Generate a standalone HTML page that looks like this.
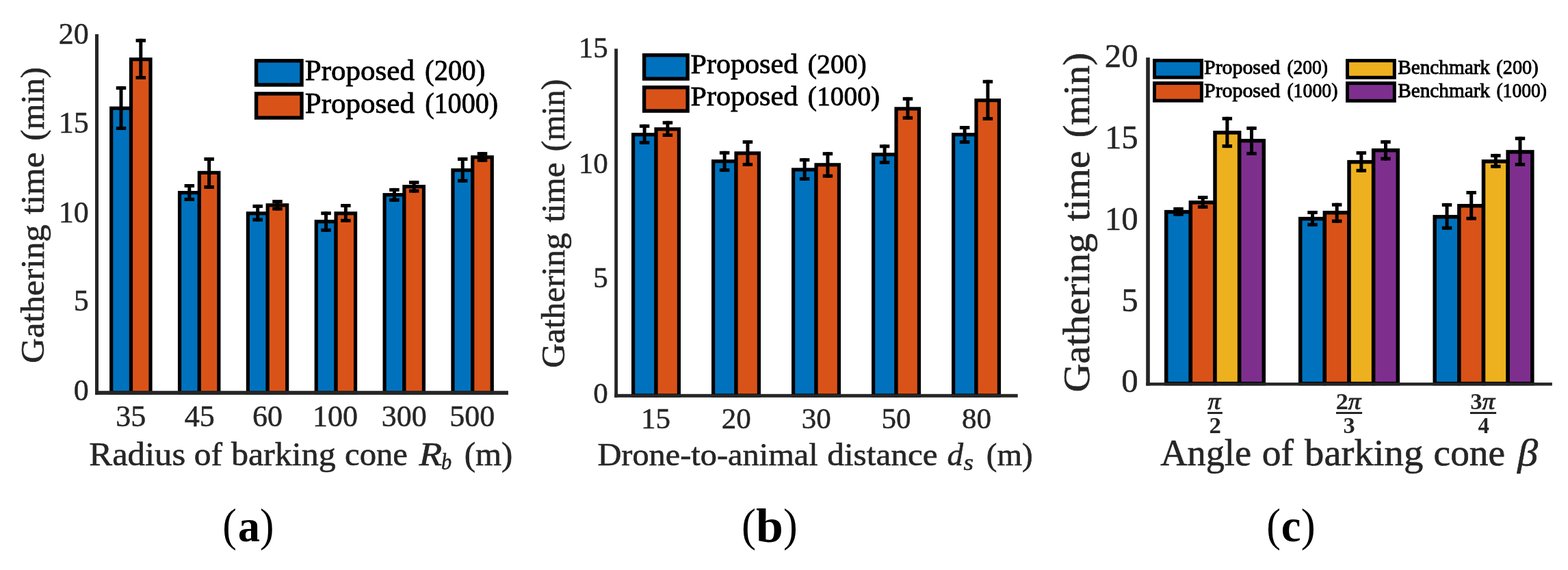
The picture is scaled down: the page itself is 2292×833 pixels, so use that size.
<!DOCTYPE html>
<html><head><meta charset="utf-8"><title>Gathering time bar charts</title>
<style>
html,body{margin:0;padding:0;background:#fff;}
body{width:2292px;height:833px;overflow:hidden;}
svg{display:block;font-family:"Liberation Serif",serif;font-kerning:none;}
</style></head><body>
<svg width="2292" height="833" viewBox="0 0 2292 833">
<rect width="2292" height="833" fill="#fff"/>
<rect x="162.70" y="158.20" width="28.80" height="415.80" fill="#0072BD" stroke="#000" stroke-width="5.2"/>
<rect x="191.50" y="86.70" width="28.50" height="487.30" fill="#D95319" stroke="#000" stroke-width="5.2"/>
<rect x="262.55" y="281.60" width="28.80" height="292.40" fill="#0072BD" stroke="#000" stroke-width="5.2"/>
<rect x="291.35" y="252.40" width="28.50" height="321.60" fill="#D95319" stroke="#000" stroke-width="5.2"/>
<rect x="362.40" y="311.80" width="28.80" height="262.20" fill="#0072BD" stroke="#000" stroke-width="5.2"/>
<rect x="391.20" y="299.80" width="28.50" height="274.20" fill="#D95319" stroke="#000" stroke-width="5.2"/>
<rect x="462.25" y="323.80" width="28.80" height="250.20" fill="#0072BD" stroke="#000" stroke-width="5.2"/>
<rect x="491.05" y="311.80" width="28.50" height="262.20" fill="#D95319" stroke="#000" stroke-width="5.2"/>
<rect x="562.10" y="284.70" width="28.80" height="289.30" fill="#0072BD" stroke="#000" stroke-width="5.2"/>
<rect x="590.90" y="272.70" width="28.50" height="301.30" fill="#D95319" stroke="#000" stroke-width="5.2"/>
<rect x="661.95" y="248.70" width="28.80" height="325.30" fill="#0072BD" stroke="#000" stroke-width="5.2"/>
<rect x="690.75" y="229.70" width="28.50" height="344.30" fill="#D95319" stroke="#000" stroke-width="5.2"/>
<rect x="174.50" y="126.10" width="5.00" height="63.90" fill="#000"/>
<rect x="169.75" y="126.10" width="14.50" height="5.00" fill="#000"/>
<rect x="169.75" y="185.00" width="14.50" height="5.00" fill="#000"/>
<rect x="203.30" y="56.70" width="5.00" height="59.30" fill="#000"/>
<rect x="198.55" y="56.70" width="14.50" height="5.00" fill="#000"/>
<rect x="198.55" y="111.00" width="14.50" height="5.00" fill="#000"/>
<rect x="274.35" y="269.00" width="5.00" height="24.90" fill="#000"/>
<rect x="269.60" y="269.00" width="14.50" height="5.00" fill="#000"/>
<rect x="269.60" y="288.90" width="14.50" height="5.00" fill="#000"/>
<rect x="303.15" y="230.00" width="5.00" height="45.90" fill="#000"/>
<rect x="298.40" y="230.00" width="14.50" height="5.00" fill="#000"/>
<rect x="298.40" y="270.90" width="14.50" height="5.00" fill="#000"/>
<rect x="374.20" y="298.90" width="5.00" height="24.70" fill="#000"/>
<rect x="369.45" y="298.90" width="14.50" height="5.00" fill="#000"/>
<rect x="369.45" y="318.60" width="14.50" height="5.00" fill="#000"/>
<rect x="403.00" y="292.00" width="5.00" height="15.60" fill="#000"/>
<rect x="398.25" y="292.00" width="14.50" height="5.00" fill="#000"/>
<rect x="398.25" y="302.60" width="14.50" height="5.00" fill="#000"/>
<rect x="474.05" y="309.20" width="5.00" height="29.60" fill="#000"/>
<rect x="469.30" y="309.20" width="14.50" height="5.00" fill="#000"/>
<rect x="469.30" y="333.80" width="14.50" height="5.00" fill="#000"/>
<rect x="502.85" y="298.00" width="5.00" height="26.90" fill="#000"/>
<rect x="498.10" y="298.00" width="14.50" height="5.00" fill="#000"/>
<rect x="498.10" y="319.90" width="14.50" height="5.00" fill="#000"/>
<rect x="573.90" y="274.90" width="5.00" height="19.90" fill="#000"/>
<rect x="569.15" y="274.90" width="14.50" height="5.00" fill="#000"/>
<rect x="569.15" y="289.80" width="14.50" height="5.00" fill="#000"/>
<rect x="602.70" y="264.10" width="5.00" height="17.50" fill="#000"/>
<rect x="597.95" y="264.10" width="14.50" height="5.00" fill="#000"/>
<rect x="597.95" y="276.60" width="14.50" height="5.00" fill="#000"/>
<rect x="673.75" y="230.00" width="5.00" height="36.70" fill="#000"/>
<rect x="669.00" y="230.00" width="14.50" height="5.00" fill="#000"/>
<rect x="669.00" y="261.70" width="14.50" height="5.00" fill="#000"/>
<rect x="702.55" y="222.10" width="5.00" height="14.60" fill="#000"/>
<rect x="697.80" y="222.10" width="14.50" height="5.00" fill="#000"/>
<rect x="697.80" y="231.70" width="14.50" height="5.00" fill="#000"/>
<rect x="139.00" y="50.00" width="5.00" height="526.90" fill="#262626"/>
<rect x="139.00" y="571.20" width="603.90" height="5.70" fill="#262626"/>
<rect x="925.60" y="196.70" width="33.40" height="381.30" fill="#0072BD" stroke="#000" stroke-width="5.2"/>
<rect x="959.00" y="188.70" width="33.40" height="389.30" fill="#D95319" stroke="#000" stroke-width="5.2"/>
<rect x="1042.60" y="235.70" width="33.40" height="342.30" fill="#0072BD" stroke="#000" stroke-width="5.2"/>
<rect x="1076.00" y="223.90" width="33.40" height="354.10" fill="#D95319" stroke="#000" stroke-width="5.2"/>
<rect x="1159.60" y="247.90" width="33.40" height="330.10" fill="#0072BD" stroke="#000" stroke-width="5.2"/>
<rect x="1193.00" y="240.80" width="33.40" height="337.20" fill="#D95319" stroke="#000" stroke-width="5.2"/>
<rect x="1276.60" y="225.80" width="33.40" height="352.20" fill="#0072BD" stroke="#000" stroke-width="5.2"/>
<rect x="1310.00" y="158.90" width="33.40" height="419.10" fill="#D95319" stroke="#000" stroke-width="5.2"/>
<rect x="1393.60" y="196.70" width="33.40" height="381.30" fill="#0072BD" stroke="#000" stroke-width="5.2"/>
<rect x="1427.00" y="146.60" width="33.40" height="431.40" fill="#D95319" stroke="#000" stroke-width="5.2"/>
<rect x="939.60" y="181.80" width="5.00" height="29.10" fill="#000"/>
<rect x="934.85" y="181.80" width="14.50" height="5.00" fill="#000"/>
<rect x="934.85" y="205.90" width="14.50" height="5.00" fill="#000"/>
<rect x="973.40" y="176.80" width="5.00" height="23.20" fill="#000"/>
<rect x="968.65" y="176.80" width="14.50" height="5.00" fill="#000"/>
<rect x="968.65" y="195.00" width="14.50" height="5.00" fill="#000"/>
<rect x="1056.60" y="220.80" width="5.00" height="30.30" fill="#000"/>
<rect x="1051.85" y="220.80" width="14.50" height="5.00" fill="#000"/>
<rect x="1051.85" y="246.10" width="14.50" height="5.00" fill="#000"/>
<rect x="1090.40" y="205.00" width="5.00" height="37.90" fill="#000"/>
<rect x="1085.65" y="205.00" width="14.50" height="5.00" fill="#000"/>
<rect x="1085.65" y="237.90" width="14.50" height="5.00" fill="#000"/>
<rect x="1173.60" y="231.20" width="5.00" height="32.70" fill="#000"/>
<rect x="1168.85" y="231.20" width="14.50" height="5.00" fill="#000"/>
<rect x="1168.85" y="258.90" width="14.50" height="5.00" fill="#000"/>
<rect x="1207.40" y="222.20" width="5.00" height="37.50" fill="#000"/>
<rect x="1202.65" y="222.20" width="14.50" height="5.00" fill="#000"/>
<rect x="1202.65" y="254.70" width="14.50" height="5.00" fill="#000"/>
<rect x="1290.60" y="211.30" width="5.00" height="28.60" fill="#000"/>
<rect x="1285.85" y="211.30" width="14.50" height="5.00" fill="#000"/>
<rect x="1285.85" y="234.90" width="14.50" height="5.00" fill="#000"/>
<rect x="1324.40" y="141.90" width="5.00" height="32.90" fill="#000"/>
<rect x="1319.65" y="141.90" width="14.50" height="5.00" fill="#000"/>
<rect x="1319.65" y="169.80" width="14.50" height="5.00" fill="#000"/>
<rect x="1407.60" y="184.00" width="5.00" height="26.10" fill="#000"/>
<rect x="1402.85" y="184.00" width="14.50" height="5.00" fill="#000"/>
<rect x="1402.85" y="205.10" width="14.50" height="5.00" fill="#000"/>
<rect x="1441.40" y="116.80" width="5.00" height="59.20" fill="#000"/>
<rect x="1436.65" y="116.80" width="14.50" height="5.00" fill="#000"/>
<rect x="1436.65" y="171.00" width="14.50" height="5.00" fill="#000"/>
<rect x="898.20" y="71.20" width="4.80" height="509.60" fill="#262626"/>
<rect x="898.20" y="575.80" width="589.50" height="5.00" fill="#262626"/>
<rect x="1704.70" y="309.65" width="35.65" height="250.95" fill="#0072BD" stroke="#000" stroke-width="5.5"/>
<rect x="1740.35" y="295.85" width="35.65" height="264.75" fill="#D95319" stroke="#000" stroke-width="5.5"/>
<rect x="1776.00" y="193.75" width="35.65" height="366.85" fill="#EDB120" stroke="#000" stroke-width="5.5"/>
<rect x="1811.65" y="205.65" width="35.65" height="354.95" fill="#7E2F8E" stroke="#000" stroke-width="5.5"/>
<rect x="1900.70" y="319.65" width="35.65" height="240.95" fill="#0072BD" stroke="#000" stroke-width="5.5"/>
<rect x="1936.35" y="310.75" width="35.65" height="249.85" fill="#D95319" stroke="#000" stroke-width="5.5"/>
<rect x="1972.00" y="236.65" width="35.65" height="323.95" fill="#EDB120" stroke="#000" stroke-width="5.5"/>
<rect x="2007.65" y="219.65" width="35.65" height="340.95" fill="#7E2F8E" stroke="#000" stroke-width="5.5"/>
<rect x="2097.20" y="316.85" width="35.65" height="243.75" fill="#0072BD" stroke="#000" stroke-width="5.5"/>
<rect x="2132.85" y="300.75" width="35.65" height="259.85" fill="#D95319" stroke="#000" stroke-width="5.5"/>
<rect x="2168.50" y="235.85" width="35.65" height="324.75" fill="#EDB120" stroke="#000" stroke-width="5.5"/>
<rect x="2204.15" y="221.95" width="35.65" height="338.65" fill="#7E2F8E" stroke="#000" stroke-width="5.5"/>
<rect x="1720.03" y="302.90" width="5.00" height="12.80" fill="#000"/>
<rect x="1715.28" y="302.90" width="14.50" height="5.00" fill="#000"/>
<rect x="1715.28" y="310.70" width="14.50" height="5.00" fill="#000"/>
<rect x="1755.67" y="286.10" width="5.00" height="18.80" fill="#000"/>
<rect x="1750.92" y="286.10" width="14.50" height="5.00" fill="#000"/>
<rect x="1750.92" y="299.90" width="14.50" height="5.00" fill="#000"/>
<rect x="1791.33" y="170.80" width="5.00" height="45.30" fill="#000"/>
<rect x="1786.58" y="170.80" width="14.50" height="5.00" fill="#000"/>
<rect x="1786.58" y="211.10" width="14.50" height="5.00" fill="#000"/>
<rect x="1826.97" y="184.90" width="5.00" height="42.00" fill="#000"/>
<rect x="1822.22" y="184.90" width="14.50" height="5.00" fill="#000"/>
<rect x="1822.22" y="221.90" width="14.50" height="5.00" fill="#000"/>
<rect x="1916.03" y="308.00" width="5.00" height="22.80" fill="#000"/>
<rect x="1911.28" y="308.00" width="14.50" height="5.00" fill="#000"/>
<rect x="1911.28" y="325.80" width="14.50" height="5.00" fill="#000"/>
<rect x="1951.67" y="296.70" width="5.00" height="29.00" fill="#000"/>
<rect x="1946.92" y="296.70" width="14.50" height="5.00" fill="#000"/>
<rect x="1946.92" y="320.70" width="14.50" height="5.00" fill="#000"/>
<rect x="1987.33" y="221.00" width="5.00" height="30.80" fill="#000"/>
<rect x="1982.58" y="221.00" width="14.50" height="5.00" fill="#000"/>
<rect x="1982.58" y="246.80" width="14.50" height="5.00" fill="#000"/>
<rect x="2022.97" y="204.90" width="5.00" height="29.60" fill="#000"/>
<rect x="2018.22" y="204.90" width="14.50" height="5.00" fill="#000"/>
<rect x="2018.22" y="229.50" width="14.50" height="5.00" fill="#000"/>
<rect x="2112.53" y="296.90" width="5.00" height="38.80" fill="#000"/>
<rect x="2107.78" y="296.90" width="14.50" height="5.00" fill="#000"/>
<rect x="2107.78" y="330.70" width="14.50" height="5.00" fill="#000"/>
<rect x="2148.18" y="279.00" width="5.00" height="42.80" fill="#000"/>
<rect x="2143.43" y="279.00" width="14.50" height="5.00" fill="#000"/>
<rect x="2143.43" y="316.80" width="14.50" height="5.00" fill="#000"/>
<rect x="2183.82" y="224.90" width="5.00" height="20.80" fill="#000"/>
<rect x="2179.07" y="224.90" width="14.50" height="5.00" fill="#000"/>
<rect x="2179.07" y="240.70" width="14.50" height="5.00" fill="#000"/>
<rect x="2219.47" y="199.80" width="5.00" height="43.10" fill="#000"/>
<rect x="2214.72" y="199.80" width="14.50" height="5.00" fill="#000"/>
<rect x="2214.72" y="237.90" width="14.50" height="5.00" fill="#000"/>
<rect x="1675.20" y="84.10" width="5.60" height="479.50" fill="#262626"/>
<rect x="1675.20" y="559.10" width="593.60" height="4.50" fill="#262626"/>
<text x="129.68" y="64.12" font-size="44.0" fill="#262626" text-anchor="end" stroke="#262626" stroke-width="0.5">20</text>
<text x="129.72" y="194.31" font-size="44.0" fill="#262626" text-anchor="end" stroke="#262626" stroke-width="0.5">15</text>
<text x="129.68" y="324.72" font-size="44.0" fill="#262626" text-anchor="end" stroke="#262626" stroke-width="0.5">10</text>
<text x="129.72" y="454.19" font-size="44.0" fill="#262626" text-anchor="end" stroke="#262626" stroke-width="0.5">5</text>
<text x="129.68" y="585.22" font-size="44.0" fill="#262626" text-anchor="end" stroke="#262626" stroke-width="0.5">0</text>
<text x="191.31" y="623.10" font-size="44.0" fill="#262626" text-anchor="middle" stroke="#262626" stroke-width="0.5">35</text>
<text x="291.78" y="623.10" font-size="44.0" fill="#262626" text-anchor="middle" stroke="#262626" stroke-width="0.5">45</text>
<text x="391.09" y="623.10" font-size="44.0" fill="#262626" text-anchor="middle" stroke="#262626" stroke-width="0.5">60</text>
<text x="489.95" y="623.10" font-size="44.0" fill="#262626" text-anchor="middle" stroke="#262626" stroke-width="0.5">100</text>
<text x="590.69" y="623.10" font-size="44.0" fill="#262626" text-anchor="middle" stroke="#262626" stroke-width="0.5">300</text>
<text x="690.31" y="623.10" font-size="44.0" fill="#262626" text-anchor="middle" stroke="#262626" stroke-width="0.5">500</text>
<text x="888.68" y="84.28" font-size="43.0" fill="#262626" text-anchor="end" stroke="#262626" stroke-width="0.5">15</text>
<text x="888.64" y="252.79" font-size="43.0" fill="#262626" text-anchor="end" stroke="#262626" stroke-width="0.5">10</text>
<text x="888.68" y="420.37" font-size="43.0" fill="#262626" text-anchor="end" stroke="#262626" stroke-width="0.5">5</text>
<text x="888.64" y="589.19" font-size="43.0" fill="#262626" text-anchor="end" stroke="#262626" stroke-width="0.5">0</text>
<text x="958.45" y="625.60" font-size="43.0" fill="#262626" text-anchor="middle" stroke="#262626" stroke-width="0.5">15</text>
<text x="1076.37" y="625.60" font-size="43.0" fill="#262626" text-anchor="middle" stroke="#262626" stroke-width="0.5">20</text>
<text x="1193.29" y="625.60" font-size="43.0" fill="#262626" text-anchor="middle" stroke="#262626" stroke-width="0.5">30</text>
<text x="1310.07" y="625.60" font-size="43.0" fill="#262626" text-anchor="middle" stroke="#262626" stroke-width="0.5">50</text>
<text x="1427.50" y="625.60" font-size="43.0" fill="#262626" text-anchor="middle" stroke="#262626" stroke-width="0.5">80</text>
<text x="1663.66" y="98.39" font-size="48.8" fill="#262626" text-anchor="end" stroke="#262626" stroke-width="0.5">20</text>
<text x="1663.71" y="216.87" font-size="48.8" fill="#262626" text-anchor="end" stroke="#262626" stroke-width="0.5">15</text>
<text x="1663.66" y="335.99" font-size="48.8" fill="#262626" text-anchor="end" stroke="#262626" stroke-width="0.5">10</text>
<text x="1663.71" y="454.94" font-size="48.8" fill="#262626" text-anchor="end" stroke="#262626" stroke-width="0.5">5</text>
<text x="1663.66" y="573.39" font-size="48.8" fill="#262626" text-anchor="end" stroke="#262626" stroke-width="0.5">0</text>
<rect x="1765.10" y="602.0" width="21.80" height="3.0" fill="#262626"/>
<text x="1765.70" y="597.70" font-size="33.00" font-style="italic" fill="#262626" textLength="18.45" lengthAdjust="spacingAndGlyphs" stroke="#262626" stroke-width="0.9">π</text>
<text x="1767.53" y="633.00" font-size="34.00" font-weight="bold" fill="#262626" textLength="17.47" lengthAdjust="spacingAndGlyphs">2</text>
<rect x="1953.00" y="602.0" width="38.10" height="3.0" fill="#262626"/>
<text x="1952.88" y="598.10" font-size="34.00" font-weight="bold" fill="#262626" textLength="18.06" lengthAdjust="spacingAndGlyphs">2</text>
<text x="1970.70" y="598.10" font-size="33.00" font-style="italic" fill="#262626" textLength="18.55" lengthAdjust="spacingAndGlyphs" stroke="#262626" stroke-width="0.9">π</text>
<text x="1963.51" y="633.00" font-size="34.00" font-weight="bold" fill="#262626" textLength="17.16" lengthAdjust="spacingAndGlyphs">3</text>
<rect x="2148.90" y="602.0" width="38.20" height="3.0" fill="#262626"/>
<text x="2149.19" y="598.10" font-size="34.00" font-weight="bold" fill="#262626" textLength="17.36" lengthAdjust="spacingAndGlyphs">3</text>
<text x="2166.67" y="598.10" font-size="33.00" font-style="italic" fill="#262626" textLength="18.39" lengthAdjust="spacingAndGlyphs" stroke="#262626" stroke-width="0.9">π</text>
<text x="2160.45" y="633.00" font-size="34.00" font-weight="bold" fill="#262626" textLength="16.35" lengthAdjust="spacingAndGlyphs">4</text>
<text transform="translate(63.60 528.60) rotate(-90)" x="-2.08" y="0" font-size="47.50" fill="#262626" textLength="202.64" lengthAdjust="spacingAndGlyphs" stroke="#262626" stroke-width="0.6">Gathering</text>
<text transform="translate(63.60 312.80) rotate(-90)" x="-0.50" y="0" font-size="47.50" fill="#262626" textLength="90.77" lengthAdjust="spacingAndGlyphs" stroke="#262626" stroke-width="0.6">time</text>
<text transform="translate(63.60 203.30) rotate(-90)" x="-2.12" y="0" font-size="47.50" fill="#262626" textLength="107.35" lengthAdjust="spacingAndGlyphs" stroke="#262626" stroke-width="0.6">(min)</text>
<text transform="translate(825.20 535.70) rotate(-90)" x="-2.03" y="0" font-size="47.50" fill="#262626" textLength="197.47" lengthAdjust="spacingAndGlyphs" stroke="#262626" stroke-width="0.6">Gathering</text>
<text transform="translate(825.20 324.30) rotate(-90)" x="-0.48" y="0" font-size="47.50" fill="#262626" textLength="87.28" lengthAdjust="spacingAndGlyphs" stroke="#262626" stroke-width="0.6">time</text>
<text transform="translate(825.20 219.20) rotate(-90)" x="-2.09" y="0" font-size="47.50" fill="#262626" textLength="105.58" lengthAdjust="spacingAndGlyphs" stroke="#262626" stroke-width="0.6">(min)</text>
<text transform="translate(1592.20 571.00) rotate(-90)" x="-2.38" y="0" font-size="55.00" fill="#262626" textLength="232.39" lengthAdjust="spacingAndGlyphs" stroke="#262626" stroke-width="0.6">Gathering</text>
<text transform="translate(1592.20 322.80) rotate(-90)" x="-0.56" y="0" font-size="55.00" fill="#262626" textLength="102.77" lengthAdjust="spacingAndGlyphs" stroke="#262626" stroke-width="0.6">time</text>
<text transform="translate(1592.20 198.80) rotate(-90)" x="-2.45" y="0" font-size="55.00" fill="#262626" textLength="124.11" lengthAdjust="spacingAndGlyphs" stroke="#262626" stroke-width="0.6">(min)</text>
<text x="130.34" y="679.80" font-size="47.80" fill="#262626" textLength="140.79" lengthAdjust="spacingAndGlyphs" stroke="#262626" stroke-width="0.6">Radius</text>
<text x="283.82" y="679.80" font-size="47.80" fill="#262626" textLength="41.18" lengthAdjust="spacingAndGlyphs" stroke="#262626" stroke-width="0.6">of</text>
<text x="337.90" y="679.80" font-size="47.80" fill="#262626" textLength="152.85" lengthAdjust="spacingAndGlyphs" stroke="#262626" stroke-width="0.6">barking</text>
<text x="504.04" y="679.80" font-size="47.80" fill="#262626" textLength="91.94" lengthAdjust="spacingAndGlyphs" stroke="#262626" stroke-width="0.6">cone</text>
<text x="612.40" y="679.80" font-size="47.80" font-style="italic" fill="#262626" textLength="33.62" lengthAdjust="spacingAndGlyphs" stroke="#262626" stroke-width="0.6">R</text>
<text x="645.08" y="686.00" font-size="34.00" font-style="italic" fill="#262626" textLength="15.14" lengthAdjust="spacingAndGlyphs" stroke="#262626" stroke-width="0.6">b</text>
<text x="678.75" y="679.80" font-size="47.80" fill="#262626" textLength="70.60" lengthAdjust="spacingAndGlyphs" stroke="#262626" stroke-width="0.6">(m)</text>
<text x="873.41" y="679.90" font-size="47.20" fill="#262626" textLength="322.26" lengthAdjust="spacingAndGlyphs" stroke="#262626" stroke-width="0.6">Drone-to-animal</text>
<text x="1209.32" y="679.90" font-size="47.20" fill="#262626" textLength="161.29" lengthAdjust="spacingAndGlyphs" stroke="#262626" stroke-width="0.6">distance</text>
<text x="1384.48" y="679.90" font-size="47.20" font-style="italic" fill="#262626" textLength="23.51" lengthAdjust="spacingAndGlyphs" stroke="#262626" stroke-width="0.6">d</text>
<text x="1408.55" y="686.50" font-size="34.00" font-style="italic" fill="#262626" textLength="14.48" lengthAdjust="spacingAndGlyphs" stroke="#262626" stroke-width="0.6">s</text>
<text x="1441.84" y="679.90" font-size="47.20" fill="#262626" textLength="67.83" lengthAdjust="spacingAndGlyphs" stroke="#262626" stroke-width="0.6">(m)</text>
<text x="1696.27" y="679.80" font-size="54.00" fill="#262626" textLength="132.81" lengthAdjust="spacingAndGlyphs" stroke="#262626" stroke-width="0.6">Angle</text>
<text x="1844.79" y="679.80" font-size="54.00" fill="#262626" textLength="46.21" lengthAdjust="spacingAndGlyphs" stroke="#262626" stroke-width="0.6">of</text>
<text x="1907.10" y="679.80" font-size="54.00" fill="#262626" textLength="173.18" lengthAdjust="spacingAndGlyphs" stroke="#262626" stroke-width="0.6">barking</text>
<text x="2095.59" y="679.80" font-size="54.00" fill="#262626" textLength="104.42" lengthAdjust="spacingAndGlyphs" stroke="#262626" stroke-width="0.6">cone</text>
<text x="2218.16" y="679.60" font-size="55.00" font-style="italic" fill="#262626" textLength="29.82" lengthAdjust="spacingAndGlyphs" stroke="#262626" stroke-width="0.6">β</text>
<rect x="374.60" y="88.80" width="66.40" height="35.20" fill="#0072BD" stroke="#000" stroke-width="5.4"/>
<rect x="374.60" y="136.90" width="66.40" height="35.20" fill="#D95319" stroke="#000" stroke-width="5.4"/>
<text x="445.76" y="116.90" font-size="42.50" fill="#000" textLength="160.16" lengthAdjust="spacingAndGlyphs" stroke="#000" stroke-width="0.8">Proposed</text>
<text x="621.11" y="116.90" font-size="42.50" fill="#000" textLength="88.07" lengthAdjust="spacingAndGlyphs" stroke="#000" stroke-width="0.8">(200)</text>
<text x="445.76" y="165.00" font-size="42.50" fill="#000" textLength="160.16" lengthAdjust="spacingAndGlyphs" stroke="#000" stroke-width="0.8">Proposed</text>
<text x="621.13" y="165.00" font-size="42.50" fill="#000" textLength="107.13" lengthAdjust="spacingAndGlyphs" stroke="#000" stroke-width="0.8">(1000)</text>
<rect x="941.60" y="80.60" width="63.50" height="34.50" fill="#0072BD" stroke="#000" stroke-width="5.4"/>
<rect x="941.60" y="127.70" width="63.50" height="34.40" fill="#D95319" stroke="#000" stroke-width="5.4"/>
<text x="1009.49" y="107.30" font-size="40.80" fill="#000" textLength="156.73" lengthAdjust="spacingAndGlyphs" stroke="#000" stroke-width="0.8">Proposed</text>
<text x="1180.86" y="107.30" font-size="40.80" fill="#000" textLength="85.88" lengthAdjust="spacingAndGlyphs" stroke="#000" stroke-width="0.8">(200)</text>
<text x="1009.49" y="153.80" font-size="40.80" fill="#000" textLength="156.73" lengthAdjust="spacingAndGlyphs" stroke="#000" stroke-width="0.8">Proposed</text>
<text x="1180.87" y="153.80" font-size="40.80" fill="#000" textLength="105.17" lengthAdjust="spacingAndGlyphs" stroke="#000" stroke-width="0.8">(1000)</text>
<rect x="1687.50" y="88.40" width="68.90" height="24.70" fill="#0072BD" stroke="#000" stroke-width="5.0"/>
<rect x="1687.50" y="121.50" width="68.90" height="25.60" fill="#D95319" stroke="#000" stroke-width="5.0"/>
<rect x="1969.50" y="88.60" width="68.80" height="24.70" fill="#EDB120" stroke="#000" stroke-width="5.0"/>
<rect x="1969.50" y="121.60" width="68.80" height="25.70" fill="#7E2F8E" stroke="#000" stroke-width="5.0"/>
<text x="1760.04" y="107.70" font-size="29.00" fill="#000" textLength="111.12" lengthAdjust="spacingAndGlyphs" stroke="#000" stroke-width="0.9">Proposed</text>
<text x="1881.39" y="107.70" font-size="29.00" fill="#000" textLength="59.62" lengthAdjust="spacingAndGlyphs" stroke="#000" stroke-width="0.9">(200)</text>
<text x="1760.04" y="141.50" font-size="29.00" fill="#000" textLength="111.12" lengthAdjust="spacingAndGlyphs" stroke="#000" stroke-width="0.9">Proposed</text>
<text x="1881.38" y="141.50" font-size="29.00" fill="#000" textLength="74.04" lengthAdjust="spacingAndGlyphs" stroke="#000" stroke-width="0.9">(1000)</text>
<text x="2043.16" y="107.50" font-size="29.00" fill="#000" textLength="134.84" lengthAdjust="spacingAndGlyphs" stroke="#000" stroke-width="0.9">Benchmark</text>
<text x="2187.35" y="107.50" font-size="29.00" fill="#000" textLength="61.39" lengthAdjust="spacingAndGlyphs" stroke="#000" stroke-width="0.9">(200)</text>
<text x="2043.16" y="141.60" font-size="29.00" fill="#000" textLength="134.84" lengthAdjust="spacingAndGlyphs" stroke="#000" stroke-width="0.9">Benchmark</text>
<text x="2187.39" y="141.60" font-size="29.00" fill="#000" textLength="73.63" lengthAdjust="spacingAndGlyphs" stroke="#000" stroke-width="0.9">(1000)</text>
<text transform="matrix(1.0861 0 0 1.2035 325.18 790.40)" x="0" y="0" font-size="57.0" fill="#000">(</text>
<text transform="matrix(0.9487 0 0 0.9640 347.72 790.66)" x="0" y="0" font-size="68.0" font-weight="bold" fill="#000">a</text>
<text transform="matrix(1.0793 0 0 1.2035 380.02 790.40)" x="0" y="0" font-size="57.0" fill="#000">)</text>
<text transform="matrix(1.1066 0 0 1.2035 1083.93 790.40)" x="0" y="0" font-size="57.0" fill="#000">(</text>
<text transform="matrix(1.0527 0 0 1.0346 1105.09 791.61)" x="0" y="0" font-size="68.0" font-weight="bold" fill="#000">b</text>
<text transform="matrix(1.0929 0 0 1.2035 1144.99 790.40)" x="0" y="0" font-size="57.0" fill="#000">)</text>
<text transform="matrix(1.0929 0 0 1.2035 1851.26 790.40)" x="0" y="0" font-size="57.0" fill="#000">(</text>
<text transform="matrix(0.9517 0 0 0.9825 1872.79 791.38)" x="0" y="0" font-size="68.0" font-weight="bold" fill="#000">c</text>
<text transform="matrix(1.1066 0 0 1.2035 1901.77 790.40)" x="0" y="0" font-size="57.0" fill="#000">)</text>
</svg>
</body></html>
